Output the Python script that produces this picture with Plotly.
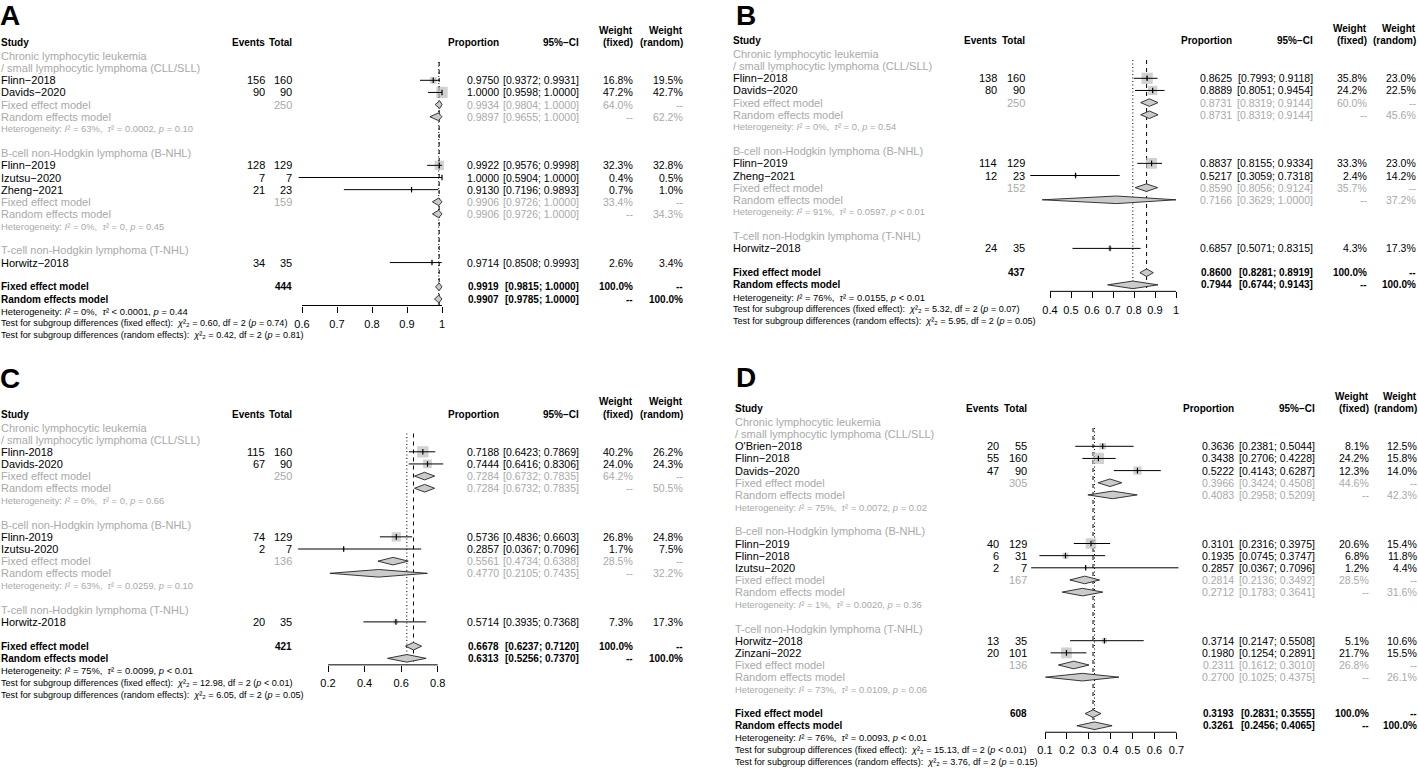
import plotly.graph_objects as go

# ---------------------------------------------------------------- data
GROUP_LABELS = [
    ["Chronic lymphocytic leukemia", "/ small lymphocytic lymphoma (CLL/SLL)"],
    ["B-cell non-Hodgkin lymphoma (B-NHL)"],
    ["T-cell non-Hodgkin lymphoma (T-NHL)"],
]

# Panel A
A_study = ["Flinn−2018", "Davids−2020", "Flinn−2019", "Izutsu−2020", "Zheng−2021", "Horwitz−2018"]
A_group = [0, 0, 1, 1, 1, 2]
A_events = [156, 90, 128, 7, 21, 34]
A_total = [160, 90, 129, 7, 23, 35]
A_prop = [0.9750, 1.0000, 0.9922, 1.0000, 0.9130, 0.9714]
A_lower = [0.9372, 0.9598, 0.9576, 0.5904, 0.7196, 0.8508]
A_upper = [0.9931, 1.0000, 0.9998, 1.0000, 0.9893, 0.9993]
A_w_fixed = [16.8, 47.2, 32.3, 0.4, 0.7, 2.6]
A_w_random = [19.5, 42.7, 32.8, 0.5, 1.0, 3.4]
A_sub_n = [250, 159, None]
A_sub_fixed = [[0.9934, 0.9804, 1.0000], [0.9906, 0.9726, 1.0000], None]
A_sub_fixed_w = [64.0, 33.4, None]
A_sub_random = [[0.9897, 0.9655, 1.0000], [0.9906, 0.9726, 1.0000], None]
A_sub_random_w = [62.2, 34.3, None]
A_sub_het = [("63%", "= 0.0002", "= 0.10"), ("0%", "= 0", "= 0.45"), None]
A_n = 444
A_fixed = [0.9919, 0.9815, 1.0000]
A_random = [0.9907, 0.9785, 1.0000]
A_het = ("0%", "< 0.0001", "= 0.44")
A_test_fixed = ("0.60", "= 0.74")
A_test_random = ("0.42", "= 0.81")
A_ticks = [0.6, 0.7, 0.8, 0.9, 1.0]
A_ticktext = ["0.6", "0.7", "0.8", "0.9", "1"]

# Panel B
B_study = ["Flinn−2018", "Davids−2020", "Flinn−2019", "Zheng−2021", "Horwitz−2018"]
B_group = [0, 0, 1, 1, 2]
B_events = [138, 80, 114, 12, 24]
B_total = [160, 90, 129, 23, 35]
B_prop = [0.8625, 0.8889, 0.8837, 0.5217, 0.6857]
B_lower = [0.7993, 0.8051, 0.8155, 0.3059, 0.5071]
B_upper = [0.9118, 0.9454, 0.9334, 0.7318, 0.8315]
B_w_fixed = [35.8, 24.2, 33.3, 2.4, 4.3]
B_w_random = [23.0, 22.5, 23.0, 14.2, 17.3]
B_sub_n = [250, 152, None]
B_sub_fixed = [[0.8731, 0.8319, 0.9144], [0.8590, 0.8056, 0.9124], None]
B_sub_fixed_w = [60.0, 35.7, None]
B_sub_random = [[0.8731, 0.8319, 0.9144], [0.7166, 0.3629, 1.0000], None]
B_sub_random_w = [45.6, 37.2, None]
B_sub_het = [("0%", "= 0", "= 0.54"), ("91%", "= 0.0597", "< 0.01"), None]
B_n = 437
B_fixed = [0.8600, 0.8281, 0.8919]
B_random = [0.7944, 0.6744, 0.9143]
B_het = ("76%", "= 0.0155", "< 0.01")
B_test_fixed = ("5.32", "= 0.07")
B_test_random = ("5.95", "= 0.05")
B_ticks = [0.4, 0.5, 0.6, 0.7, 0.8, 0.9, 1.0]
B_ticktext = ["0.4", "0.5", "0.6", "0.7", "0.8", "0.9", "1"]

# Panel C
C_study = ["Flinn-2018", "Davids-2020", "Flinn-2019", "Izutsu-2020", "Horwitz-2018"]
C_group = [0, 0, 1, 1, 2]
C_events = [115, 67, 74, 2, 20]
C_total = [160, 90, 129, 7, 35]
C_prop = [0.7188, 0.7444, 0.5736, 0.2857, 0.5714]
C_lower = [0.6423, 0.6416, 0.4836, 0.0367, 0.3935]
C_upper = [0.7869, 0.8306, 0.6603, 0.7096, 0.7368]
C_w_fixed = [40.2, 24.0, 26.8, 1.7, 7.3]
C_w_random = [26.2, 24.3, 24.8, 7.5, 17.3]
C_sub_n = [250, 136, None]
C_sub_fixed = [[0.7284, 0.6732, 0.7835], [0.5561, 0.4734, 0.6388], None]
C_sub_fixed_w = [64.2, 28.5, None]
C_sub_random = [[0.7284, 0.6732, 0.7835], [0.4770, 0.2105, 0.7435], None]
C_sub_random_w = [50.5, 32.2, None]
C_sub_het = [("0%", "= 0", "= 0.66"), ("63%", "= 0.0259", "= 0.10"), None]
C_n = 421
C_fixed = [0.6678, 0.6237, 0.7120]
C_random = [0.6313, 0.5256, 0.7370]
C_het = ("75%", "= 0.0099", "< 0.01")
C_test_fixed = ("12.98", "< 0.01")
C_test_random = ("6.05", "= 0.05")
C_ticks = [0.2, 0.4, 0.6, 0.8]
C_ticktext = ["0.2", "0.4", "0.6", "0.8"]

# Panel D
D_study = ["O'Brien−2018", "Flinn−2018", "Davids−2020", "Flinn−2019", "Flinn−2018",
           "Izutsu−2020", "Horwitz−2018", "Zinzani−2022"]
D_group = [0, 0, 0, 1, 1, 1, 2, 2]
D_events = [20, 55, 47, 40, 6, 2, 13, 20]
D_total = [55, 160, 90, 129, 31, 7, 35, 101]
D_prop = [0.3636, 0.3438, 0.5222, 0.3101, 0.1935, 0.2857, 0.3714, 0.1980]
D_lower = [0.2381, 0.2706, 0.4143, 0.2316, 0.0745, 0.0367, 0.2147, 0.1254]
D_upper = [0.5044, 0.4228, 0.6287, 0.3975, 0.3747, 0.7096, 0.5508, 0.2891]
D_w_fixed = [8.1, 24.2, 12.3, 20.6, 6.8, 1.2, 5.1, 21.7]
D_w_random = [12.5, 15.8, 14.0, 15.4, 11.8, 4.4, 10.6, 15.5]
D_sub_n = [305, 167, 136]
D_sub_fixed = [[0.3966, 0.3424, 0.4508], [0.2814, 0.2136, 0.3492], [0.2311, 0.1612, 0.3010]]
D_sub_fixed_w = [44.6, 28.5, 26.8]
D_sub_random = [[0.4083, 0.2958, 0.5209], [0.2712, 0.1783, 0.3641], [0.2700, 0.1025, 0.4375]]
D_sub_random_w = [42.3, 31.6, 26.1]
D_sub_het = [("75%", "= 0.0072", "= 0.02"), ("1%", "= 0.0020", "= 0.36"), ("73%", "= 0.0109", "= 0.06")]
D_n = 608
D_fixed = [0.3193, 0.2831, 0.3555]
D_random = [0.3261, 0.2456, 0.4065]
D_het = ("76%", "= 0.0093", "< 0.01")
D_test_fixed = ("15.13", "< 0.01")
D_test_random = ("3.76", "= 0.15")
D_ticks = [0.1, 0.2, 0.3, 0.4, 0.5, 0.6, 0.7]
D_ticktext = ["0.1", "0.2", "0.3", "0.4", "0.5", "0.6", "0.7"]


def panel(study, group, events, total, prop, lower, upper, wf, wr, sub_n, sub_f, sub_fw,
          sub_r, sub_rw, sub_het, n, fixed, random, het, tf, tr, ticks, ticktext):
    return dict(study=study, group=group, events=events, total=total, prop=prop,
                lower=lower, upper=upper, wf=wf, wr=wr, sub_n=sub_n, sub_f=sub_f,
                sub_fw=sub_fw, sub_r=sub_r, sub_rw=sub_rw, sub_het=sub_het, n=n,
                fixed=fixed, random=random, het=het, tf=tf, tr=tr, ticks=ticks,
                ticktext=ticktext)


PANELS = {
    "A": panel(A_study, A_group, A_events, A_total, A_prop, A_lower, A_upper, A_w_fixed,
               A_w_random, A_sub_n, A_sub_fixed, A_sub_fixed_w, A_sub_random, A_sub_random_w,
               A_sub_het, A_n, A_fixed, A_random, A_het, A_test_fixed, A_test_random,
               A_ticks, A_ticktext),
    "B": panel(B_study, B_group, B_events, B_total, B_prop, B_lower, B_upper, B_w_fixed,
               B_w_random, B_sub_n, B_sub_fixed, B_sub_fixed_w, B_sub_random, B_sub_random_w,
               B_sub_het, B_n, B_fixed, B_random, B_het, B_test_fixed, B_test_random,
               B_ticks, B_ticktext),
    "C": panel(C_study, C_group, C_events, C_total, C_prop, C_lower, C_upper, C_w_fixed,
               C_w_random, C_sub_n, C_sub_fixed, C_sub_fixed_w, C_sub_random, C_sub_random_w,
               C_sub_het, C_n, C_fixed, C_random, C_het, C_test_fixed, C_test_random,
               C_ticks, C_ticktext),
    "D": panel(D_study, D_group, D_events, D_total, D_prop, D_lower, D_upper, D_w_fixed,
               D_w_random, D_sub_n, D_sub_fixed, D_sub_fixed_w, D_sub_random, D_sub_random_w,
               D_sub_het, D_n, D_fixed, D_random, D_het, D_test_fixed, D_test_random,
               D_ticks, D_ticktext),
}

# ---------------------------------------------------------------- geometry / style
W, H = 1418, 771
FONT = "Liberation Sans, Arial, Helvetica, sans-serif"
BLACK = "#000000"
GRAY = "#a9a9a9"
SQUARE_COL = "#bebebe"
DIAMOND_COL = "#cbcbcb"
ROW = 12.15
FS = 11        # regular text
FS_NUM = 10.5  # estimate / CI columns
FS_B = 10      # bold text
FS_SMALL = 9.4  # heterogeneity
FS_TEST = 9.1  # tests

GEOM = {
    "A": dict(letter=(0, 15), study_x=1, cols=(265, 292, 499, 579, 633, 683), top=56,
              forest=(302, 0.6, 350.0)),
    "B": dict(letter=(736, 15), study_x=733, cols=(997, 1025, 1232, 1313, 1367, 1416), top=54,
              forest=(1050, 0.4, 210.0)),
    "C": dict(letter=(0, 378), study_x=1, cols=(265, 292, 499, 579, 633, 683), top=427.5,
              forest=(328, 0.2, 182.8)),
    "D": dict(letter=(736, 377), study_x=735, cols=(999, 1027, 1234, 1315, 1369, 1417), top=422,
              forest=(1045, 0.1, 219.0)),
}

annotations = []


def txt(x, y, s, anchor="left", size=FS, color=BLACK, bold=False):
    if bold:
        s = "<b>" + s + "</b>"
        if size in (FS, FS_NUM):
            size = FS_B
    annotations.append(dict(x=x, y=y, xref="x", yref="y", text=s, xanchor=anchor,
                            yanchor="middle", showarrow=False, borderpad=0, borderwidth=0,
                            font=dict(family=FONT, size=size, color=color)))


def f_est(v):
    return f"{v:.4f}"


def f_ci(lo, hi):
    return f"[{lo:.4f}; {hi:.4f}]"


def f_w(w):
    return f"{w:.1f}%"


def het_text(h):
    return ("Heterogeneity: <i>I</i>² = " + h[0] + ",  <i>τ</i>² "
            + h[1] + ", <i>p</i> " + h[2])


def test_text(kind, t):
    return ("Test for subgroup differences (" + kind + "):  <i>χ</i>²₂ = "
            + t[0] + ", df = 2 (<i>p</i> " + t[1] + ")")


fig = go.Figure()
layout_axes = {}

for k, (name, d) in enumerate(PANELS.items()):
    g = GEOM[name]
    xa = "x" + str(k + 2)
    px0, v0, sc = g["forest"]
    sx = g["study_x"]
    c_ev, c_tot, c_pr, c_ci, c_wf, c_wr = g["cols"]
    top = g["top"]

    def yrow(i):
        return top + i * ROW

    # letter + headers
    txt(g["letter"][0], g["letter"][1], name, size=28, bold=True)
    hy = top - 13.5
    wy = hy - 12.5
    txt(sx, hy, "Study", bold=True)
    txt(c_ev, hy, "Events", anchor="right", bold=True)
    txt(c_tot, hy, "Total", anchor="right", bold=True)
    txt(c_pr, hy, "Proportion", anchor="right", bold=True)
    txt(c_ci, hy, "95%−CI", anchor="right", bold=True)
    txt(c_wf, wy, "Weight", anchor="right", bold=True)
    txt(c_wf, hy, "(fixed)", anchor="right", bold=True)
    txt(c_wr, wy, "Weight", anchor="right", bold=True)
    txt(c_wr, hy, "(random)", anchor="right", bold=True)

    sq_x, sq_y, sq_s = [], [], []
    ci_x, ci_y = [], []
    dia_x, dia_y = [], []
    maxw = max(d["wf"])

    def diamond(est, lo, hi, y, h=3.8):
        dia_x.extend([lo, est, hi, est, lo, None])
        dia_y.extend([y, y - h, y, y + h, y, None])

    i = 0
    first = True
    for gi, lines in enumerate(GROUP_LABELS):
        members = [j for j, gg in enumerate(d["group"]) if gg == gi]
        if not members:
            continue
        if not first:
            i += 1
        first = False
        for line in lines:
            txt(sx, yrow(i), line, color=GRAY)
            i += 1
        for j in members:
            y = yrow(i)
            txt(sx, y, d["study"][j])
            txt(c_ev, y, str(d["events"][j]), anchor="right")
            txt(c_tot, y, str(d["total"][j]), anchor="right")
            txt(c_pr, y, f_est(d["prop"][j]), anchor="right", size=FS_NUM)
            txt(c_ci, y, f_ci(d["lower"][j], d["upper"][j]), anchor="right", size=FS_NUM)
            txt(c_wf, y, f_w(d["wf"][j]), anchor="right", size=FS_NUM)
            txt(c_wr, y, f_w(d["wr"][j]), anchor="right", size=FS_NUM)
            sq_x.append(d["prop"][j])
            sq_y.append(y)
            sq_s.append(max(1.0, 11.3 * (d["wf"][j] / maxw) ** 0.5))
            ci_x.extend([d["lower"][j], d["upper"][j], None])
            ci_y.extend([y, y, None])
            i += 1
        if d["sub_n"][gi] is not None:
            y = yrow(i)
            ef, lf, hf = d["sub_f"][gi]
            txt(sx, y, "Fixed effect model", color=GRAY)
            txt(c_tot, y, str(d["sub_n"][gi]), anchor="right", color=GRAY)
            txt(c_pr, y, f_est(ef), anchor="right", color=GRAY, size=FS_NUM)
            txt(c_ci, y, f_ci(lf, hf), anchor="right", color=GRAY, size=FS_NUM)
            txt(c_wf, y, f_w(d["sub_fw"][gi]), anchor="right", color=GRAY, size=FS_NUM)
            txt(c_wr, y, "--", anchor="right", color=GRAY, size=FS_NUM)
            diamond(ef, lf, hf, y)
            y = yrow(i + 1)
            er, lr, hr = d["sub_r"][gi]
            txt(sx, y, "Random effects model", color=GRAY)
            txt(c_pr, y, f_est(er), anchor="right", color=GRAY, size=FS_NUM)
            txt(c_ci, y, f_ci(lr, hr), anchor="right", color=GRAY, size=FS_NUM)
            txt(c_wf, y, "--", anchor="right", color=GRAY, size=FS_NUM)
            txt(c_wr, y, f_w(d["sub_rw"][gi]), anchor="right", color=GRAY, size=FS_NUM)
            diamond(er, lr, hr, y)
            txt(sx, yrow(i + 2), het_text(d["sub_het"][gi]), size=FS_SMALL, color=GRAY)
            i += 3
    i += 1
    # overall
    y = yrow(i)
    ef, lf, hf = d["fixed"]
    txt(sx, y, "Fixed effect model", bold=True)
    txt(c_tot, y, str(d["n"]), anchor="right", bold=True)
    txt(c_pr, y, f_est(ef), anchor="right", bold=True)
    txt(c_ci, y, f_ci(lf, hf), anchor="right", bold=True)
    txt(c_wf, y, f_w(100.0), anchor="right", bold=True)
    txt(c_wr, y, "--", anchor="right", bold=True)
    diamond(ef, lf, hf, y)
    y = yrow(i + 1)
    er, lr, hr = d["random"]
    txt(sx, y, "Random effects model", bold=True)
    txt(c_pr, y, f_est(er), anchor="right", bold=True)
    txt(c_ci, y, f_ci(lr, hr), anchor="right", bold=True)
    txt(c_wf, y, "--", anchor="right", bold=True)
    txt(c_wr, y, f_w(100.0), anchor="right", bold=True)
    diamond(er, lr, hr, y)
    axis_y = y + 6.5
    txt(sx, yrow(i + 2), het_text(d["het"]), size=FS_SMALL)
    txt(sx, yrow(i + 3), test_text("fixed effect", d["tf"]), size=FS_TEST)
    txt(sx, yrow(i + 4), test_text("random effects", d["tr"]), size=FS_TEST)

    # reference lines
    vtop = top + 6
    fig.add_trace(go.Scatter(x=[ef, ef], y=[vtop, axis_y], mode="lines", xaxis=xa, yaxis="y",
                             line=dict(color=BLACK, width=1, dash="4px,4px"), hoverinfo="skip"))
    fig.add_trace(go.Scatter(x=[er, er], y=[vtop, axis_y], mode="lines", xaxis=xa, yaxis="y",
                             line=dict(color=BLACK, width=1, dash="1px,2.5px"), hoverinfo="skip"))
    # squares
    fig.add_trace(go.Scatter(x=sq_x, y=sq_y, mode="markers", xaxis=xa, yaxis="y",
                             marker=dict(symbol="square", size=sq_s, color=SQUARE_COL,
                                         line=dict(width=0)), hoverinfo="skip"))
    # CI lines
    fig.add_trace(go.Scatter(x=ci_x, y=ci_y, mode="lines", xaxis=xa, yaxis="y",
                             line=dict(color=BLACK, width=1), hoverinfo="skip"))
    # point marks
    fig.add_trace(go.Scatter(x=sq_x, y=sq_y, mode="markers", xaxis=xa, yaxis="y",
                             marker=dict(symbol="line-ns-open", size=4, color=BLACK,
                                         line=dict(color=BLACK, width=1.2)), hoverinfo="skip"))
    # diamonds
    fig.add_trace(go.Scatter(x=dia_x, y=dia_y, mode="lines", fill="toself", xaxis=xa, yaxis="y",
                             fillcolor=DIAMOND_COL, line=dict(color="#222222", width=0.9),
                             hoverinfo="skip"))
    # axis line
    ticks = d["ticks"]
    fig.add_trace(go.Scatter(x=[ticks[0], ticks[-1]], y=[axis_y, axis_y], mode="lines",
                             xaxis=xa, yaxis="y", line=dict(color=BLACK, width=1),
                             hoverinfo="skip"))

    d0 = px0 - 32
    d1 = px0 + (ticks[-1] - v0) * sc + 20
    layout_axes["xaxis" + str(k + 2)] = dict(
        domain=[d0 / W, d1 / W],
        range=[v0 + (d0 - px0) / sc, v0 + (d1 - px0) / sc],
        anchor="free", position=1 - axis_y / H, side="bottom",
        tickmode="array", tickvals=ticks, ticktext=d["ticktext"],
        ticks="outside", ticklen=6, tickwidth=1, tickcolor=BLACK,
        showline=False, showgrid=False, zeroline=False, automargin=False,
        ticklabelstandoff=2,
        tickfont=dict(family=FONT, size=11, color=BLACK), fixedrange=True,
    )

fig.update_layout(
    width=W, height=H,
    margin=dict(l=0, r=0, t=0, b=0),
    paper_bgcolor="white", plot_bgcolor="rgba(0,0,0,0)",
    showlegend=False,
    xaxis=dict(domain=[0, 1], range=[0, W], visible=False, fixedrange=True),
    yaxis=dict(domain=[0, 1], range=[H, 0], visible=False, fixedrange=True),
    annotations=annotations,
    **layout_axes,
)

fig.write_html("out.html", config={"displayModeBar": False},
               post_script="document.body.style.margin='0px';")
